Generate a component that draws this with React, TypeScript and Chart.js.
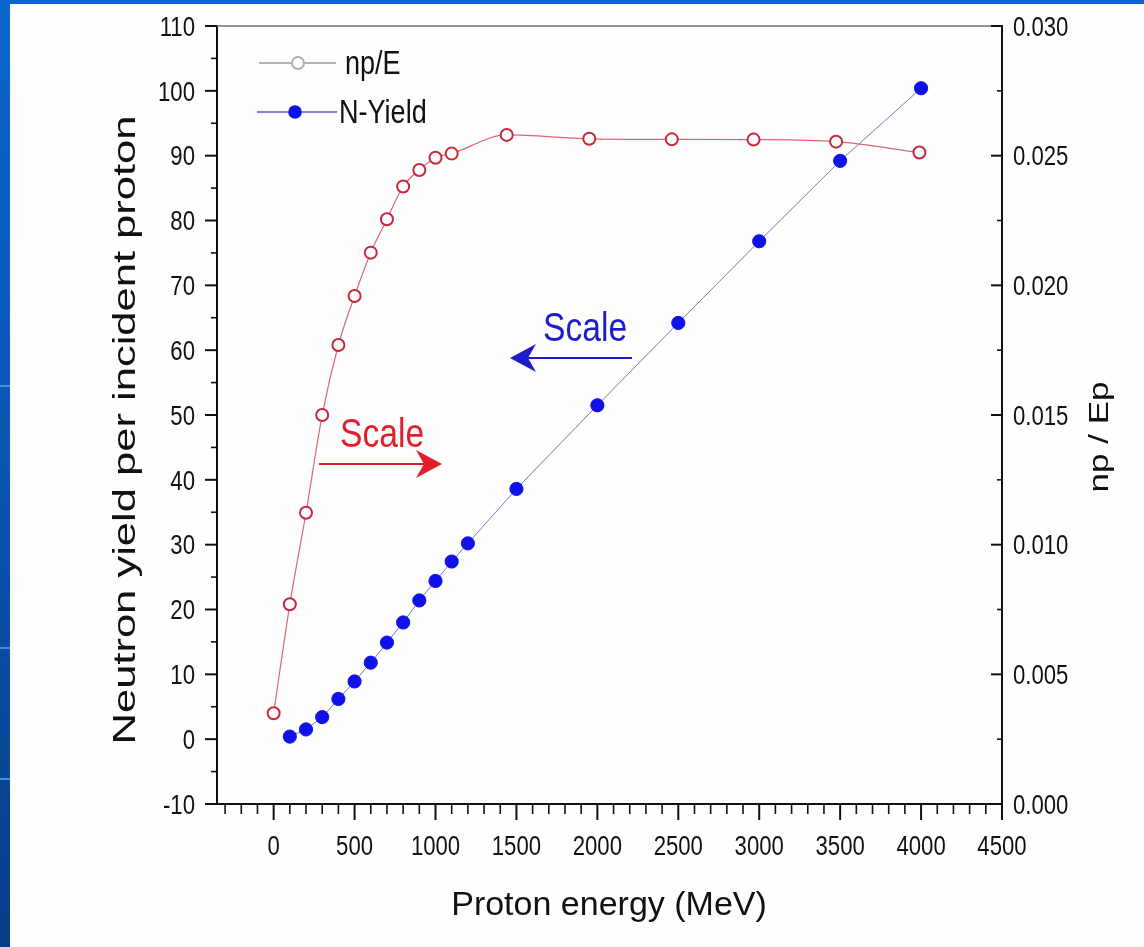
import React, { useEffect, useRef } from "react";
import { Chart, registerables } from "chart.js";

Chart.register(...registerables);

// ---- Data ----
const nyEnergy = [100, 200, 300, 400, 500, 600, 700, 800, 900, 1000, 1100, 1200, 1500, 2000, 2500, 3000, 3500, 4000];
const nyYield = [0.4, 1.5, 3.4, 6.2, 8.9, 11.8, 14.9, 18.0, 21.4, 24.4, 27.4, 30.2, 38.6, 51.5, 64.2, 76.8, 89.2, 100.4];

const npEnergy = [0, 100, 200, 300, 400, 500, 600, 700, 800, 900, 1000, 1100, 1440, 1950, 2460, 2965, 3475, 3990];
const npPerE = [0.0035, 0.0077, 0.01123, 0.015, 0.0177, 0.01959, 0.02126, 0.02255, 0.02381, 0.02445, 0.02492, 0.02508, 0.0258, 0.02565, 0.02563, 0.02562, 0.02554, 0.02512];

const xTicks = [0, 500, 1000, 1500, 2000, 2500, 3000, 3500, 4000, 4500];
const xTickLabels = ["0", "500", "1000", "1500", "2000", "2500", "3000", "3500", "4000", "4500"];
const yTicks = [-10, 0, 10, 20, 30, 40, 50, 60, 70, 80, 90, 100, 110];
const yTickLabels = ["-10", "0", "10", "20", "30", "40", "50", "60", "70", "80", "90", "100", "110"];
const y1Ticks = [0, 0.005, 0.01, 0.015, 0.02, 0.025, 0.03];
const y1TickLabels = ["0.000", "0.005", "0.010", "0.015", "0.020", "0.025", "0.030"];

const xMinorStep = 100;
const yMinorStep = 5;
const y1MinorStep = 0.0025;

const xTitle = "Proton energy (MeV)";
const yTitle = "Neutron yield per incident proton";
const y1Title = "np / Ep";
const seriesNames = ["np/E", "N-Yield"];
const annotationText = "Scale";

const FONT = "'Liberation Sans', Arial, sans-serif";
const NARROW_SX = 0.82;

function minorValues(min: number, max: number, step: number, majors: number[]) {
  const out: number[] = [];
  const n = Math.round((max - min) / step);
  for (let i = 0; i <= n; i++) {
    const v = min + i * step;
    if (!majors.some((m) => Math.abs(m - v) < step * 0.01)) out.push(v);
  }
  return out;
}

function drawText(
  ctx: CanvasRenderingContext2D,
  text: string,
  x: number,
  y: number,
  size: number,
  align: CanvasTextAlign,
  sx: number,
  color: string,
  rotate = 0
) {
  ctx.save();
  ctx.translate(x, y);
  if (rotate) ctx.rotate(rotate);
  ctx.scale(sx, 1);
  ctx.font = `${size}px ${FONT}`;
  ctx.textAlign = align;
  ctx.textBaseline = "alphabetic";
  ctx.fillStyle = color;
  ctx.fillText(text, 0, 0);
  ctx.restore();
}

const overlayPlugin = {
  id: "overlay",
  afterDraw(chart: any) {
    const ctx: CanvasRenderingContext2D = chart.ctx;
    const { left, right, top, bottom } = chart.chartArea;
    const xs = chart.scales.x;
    const ys = chart.scales.y;
    const y1s = chart.scales.y1;
    ctx.save();

    // top frame line
    ctx.strokeStyle = "#707070";
    ctx.lineWidth = 1.5;
    ctx.beginPath();
    ctx.moveTo(left, top);
    ctx.lineTo(right, top);
    ctx.stroke();

    ctx.strokeStyle = "#111";
    const seg = (x1: number, y1: number, x2: number, y2: number, w: number) => {
      ctx.lineWidth = w;
      ctx.beginPath();
      ctx.moveTo(x1, y1);
      ctx.lineTo(x2, y2);
      ctx.stroke();
    };

    // x ticks (outward) + labels
    xTicks.forEach((v, i) => {
      const p = xs.getPixelForValue(v);
      seg(p, bottom, p, bottom + 16, 2);
      drawText(ctx, xTickLabels[i], p, bottom + 51, 27, "center", NARROW_SX, "#111");
    });
    ctx.strokeStyle = "#111";
    minorValues(-300, 4400, xMinorStep, xTicks).forEach((v) => {
      const p = xs.getPixelForValue(v);
      seg(p, bottom, p, bottom + 10, 1.6);
    });
    // left y ticks (outward) + labels
    yTicks.forEach((v, i) => {
      const p = ys.getPixelForValue(v);
      seg(left - 12, p, left, p, 2);
      drawText(ctx, yTickLabels[i], left - 22, p + 9.7, 27, "right", NARROW_SX, "#111");
    });
    minorValues(-5, 105, yMinorStep * 2, yTicks).forEach((v) => {
      const p = ys.getPixelForValue(v);
      seg(left - 6, p, left, p, 1.6);
    });
    // right y ticks (inward) + labels
    y1Ticks.forEach((v, i) => {
      const p = y1s.getPixelForValue(v);
      seg(right - 11, p, right, p, 2);
      drawText(ctx, y1TickLabels[i], right + 11, p + 9.7, 27, "left", NARROW_SX, "#111");
    });
    minorValues(0.0025, 0.0275, y1MinorStep * 2, y1Ticks).forEach((v) => {
      const p = y1s.getPixelForValue(v);
      seg(right - 5, p, right, p, 1.6);
    });

    // Titles
    drawText(ctx, xTitle, 599, 911, 34, "center", 1, "#111");
    drawText(ctx, yTitle, 125, 426, 32, "center", 1.36, "#111", -Math.PI / 2);
    drawText(ctx, y1Title, 1098, 433, 28, "center", 1.25, "#111", -Math.PI / 2);

    // Legend
    // row 1: np/E
    ctx.strokeStyle = "#9a9a9a";
    seg(249, 59, 326, 59, 1.5);
    ctx.beginPath();
    ctx.arc(288, 59, 6, 0, Math.PI * 2);
    ctx.fillStyle = "#fff";
    ctx.fill();
    ctx.lineWidth = 2;
    ctx.strokeStyle = "#b0b0b0";
    ctx.stroke();
    drawText(ctx, seriesNames[0], 335, 70, 33, "left", NARROW_SX, "#111");
    // row 2: N-Yield
    ctx.strokeStyle = "#5a5ac8";
    seg(247, 108, 327, 108, 1.5);
    ctx.beginPath();
    ctx.arc(285, 108, 6.8, 0, Math.PI * 2);
    ctx.fillStyle = "#1010e8";
    ctx.fill();
    drawText(ctx, seriesNames[1], 329, 119, 33, "left", NARROW_SX, "#111");

    // Annotations
    const arrow = (x1: number, x2: number, y: number, color: string) => {
      const dir = Math.sign(x2 - x1);
      ctx.strokeStyle = color;
      ctx.fillStyle = color;
      seg(x1, y, x2 - dir * 12, y, 2);
      ctx.beginPath();
      ctx.moveTo(x2, y);
      ctx.lineTo(x2 - dir * 26, y - 14);
      ctx.lineTo(x2 - dir * 18, y);
      ctx.lineTo(x2 - dir * 26, y + 14);
      ctx.closePath();
      ctx.fill();
    };
    drawText(ctx, annotationText, 330, 443, 41, "left", NARROW_SX, "#e41e26");
    arrow(309, 432, 460, "#e41e26");

    drawText(ctx, annotationText, 533, 337, 41, "left", NARROW_SX, "#1c1ccf");
    arrow(622, 500, 354, "#1c1ccf");

    ctx.restore();
  },
};

const stripMarks = [385, 647, 778];

export default function App() {
  const canvasRef = useRef<HTMLCanvasElement | null>(null);

  useEffect(() => {
    const canvas = canvasRef.current;
    if (!canvas) return;
    const chart = new Chart(canvas, {
      type: "line",
      data: {
        datasets: [
          {
            label: seriesNames[1],
            data: nyEnergy.map((x, i) => ({ x, y: nyYield[i] })),
            yAxisID: "y",
            borderColor: "#7878b4",
            borderWidth: 1,
            pointRadius: 6.6,
            pointBorderWidth: 1,
            pointBackgroundColor: "#1010e8",
            pointBorderColor: "#1010e8",
            tension: 0,
          },
          {
            label: seriesNames[0],
            data: npEnergy.map((x, i) => ({ x, y: npPerE[i] })),
            yAxisID: "y1",
            borderColor: "#de6474",
            borderWidth: 1.2,
            pointRadius: 6,
            pointBorderWidth: 2,
            pointBackgroundColor: "#ffffff",
            pointBorderColor: "#c8283c",
            cubicInterpolationMode: "monotone",
          },
        ],
      },
      options: {
        animation: false,
        responsive: false,
        devicePixelRatio: 1,
        layout: { padding: { top: 22, left: 0, right: 0, bottom: 0 } },
        plugins: { legend: { display: false }, tooltip: { enabled: false } },
        scales: {
          x: {
            type: "linear",
            min: -350,
            max: 4500,
            afterBuildTicks: (s: any) => {
              s.ticks = xTicks.map((v) => ({ value: v }));
            },
            afterFit: (s: any) => {
              s.height = 143;
            },
            ticks: { display: false },
            grid: { drawOnChartArea: false, drawTicks: false },
            border: { display: true, color: "#111", width: 2 },
          },
          y: {
            type: "linear",
            position: "left",
            min: -10,
            max: 110,
            afterBuildTicks: (s: any) => {
              s.ticks = yTicks.map((v) => ({ value: v }));
            },
            afterFit: (s: any) => {
              s.width = 207;
            },
            ticks: { display: false },
            grid: { drawOnChartArea: false, drawTicks: false },
            border: { display: true, color: "#111", width: 2 },
          },
          y1: {
            type: "linear",
            position: "right",
            min: 0,
            max: 0.03,
            afterBuildTicks: (s: any) => {
              s.ticks = y1Ticks.map((v) => ({ value: v }));
            },
            afterFit: (s: any) => {
              s.width = 142;
            },
            ticks: { display: false },
            grid: { drawOnChartArea: false, drawTicks: false },
            border: { display: true, color: "#111", width: 2 },
          },
        },
      },
      plugins: [overlayPlugin],
    } as any);
    return () => chart.destroy();
  }, []);

  return (
    <div
      style={{
        position: "fixed",
        left: 0,
        top: 0,
        width: 1144,
        height: 947,
        background: "linear-gradient(180deg, #0b66cc 0%, #0a58b4 45%, #083c8a 100%)",
        overflow: "hidden",
      }}
    >
      {stripMarks.map((y) => (
        <div
          key={y}
          style={{ position: "absolute", left: 0, top: y, width: 10, height: 2, background: "#3f8fe4" }}
        />
      ))}
      <div
        style={{
          position: "absolute",
          left: 10,
          top: 4,
          width: 1134,
          height: 943,
          background: "#fefefe",
        }}
      >
        <canvas ref={canvasRef} width={1134} height={943} style={{ display: "block", width: 1134, height: 943 }} />
      </div>
    </div>
  );
}
